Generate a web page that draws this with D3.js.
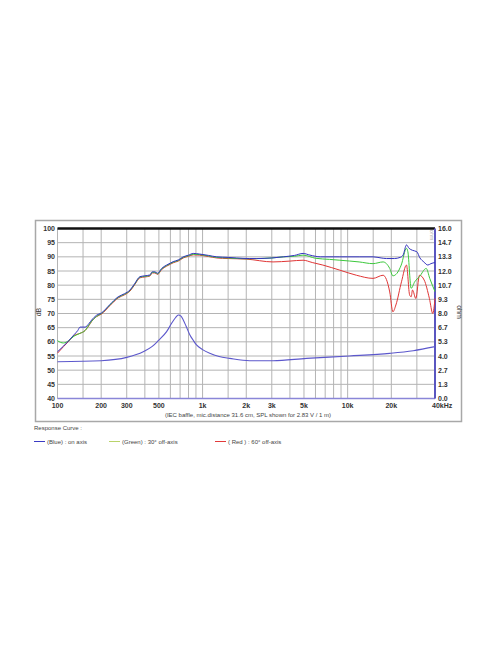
<!DOCTYPE html>
<html><head><meta charset="utf-8">
<script src="https://cdn.jsdelivr.net/npm/d3@7"></script>
<style>html,body{margin:0;padding:0;background:#fff;}svg{display:block;font-family:"Liberation Sans",Arial,sans-serif;}</style>
</head><body>
<svg id="c" width="496" height="664"></svg>
<script>
// ---- data ----
const xTickLabels = [[100,"100"],[200,"200"],[300,"300"],[500,"500"],[1000,"1k"],[2000,"2k"],[3000,"3k"],[5000,"5k"],[10000,"10k"],[20000,"20k"],[40000,"40kHz"]];
const xGrid = [100,150,200,300,400,500,600,700,800,900,1000,1500,2000,3000,4000,5000,6000,7000,8000,9000,10000,15000,20000,30000,40000];
const dbTicks = [40,45,50,55,60,65,70,75,80,85,90,95,100];
const ohmTicks = ["0.0","1.3","2.7","4.0","5.3","6.7","8.0","9.3","10.7","12.0","13.3","14.7","16.0"];

const blueFreq = [100,110,120,130,138,143,155,165,172,186,201,230,262,290,316,340,370,400,433,450,469,490,522,565,600,627,680,736,800,863,950,1100,1252,1500,1712,2106,2350,3000,3600,4300,4930,5500,6500,8830,12000,14950,17000,18530,21000,23000,24100,25440,26500,28000,29970,31500,33500,35700,37500,40000];
const blueDb   = [56.5,58.5,60.5,62.5,64,65.2,65.2,66.5,67.7,69.4,70.2,73.2,75.9,77,78.3,80.5,83,83.3,83.6,84.7,84.7,84.2,85.9,87.1,87.8,88.3,88.9,90,90.6,91.2,91.0,90.5,90,89.8,89.6,89.4,89.4,89.6,90,90.5,91.2,90.6,90,90,90,90,89.6,89.4,89.4,89.8,90.6,94.2,93,92.3,91.8,89.6,88.2,87.1,87.6,88];

const greenFreq = [100,105,110,120,130,143,155,165,172,186,201,230,262,290,316,340,370,400,433,450,469,490,522,565,600,627,680,736,800,863,950,1100,1252,1500,2000,2500,3000,3600,4300,4930,6000,7500,8830,12000,14950,17540,19500,20500,21800,23400,25440,26000,27400,29000,31250,34800,36800,40000];
const greenDb   = [60.4,59.8,59.6,60.5,62,63,64,66,67.3,69,70,73,75.7,76.8,78.1,80.3,82.8,83.1,83.4,84.5,84.5,84,85.7,86.9,87.6,88.1,88.7,89.8,90.4,90.9,90.8,90.3,89.8,89.6,89.3,89.4,89.6,90,90.2,90.6,89.5,89.1,88.8,88.2,87.6,88.2,85.9,83.3,84.1,87.1,93,91.8,78.9,81.2,83,85.9,82.4,77.7];

const redFreq = [100,110,120,130,143,155,165,172,186,201,230,262,290,316,340,370,400,433,450,469,490,522,565,600,627,680,736,800,863,950,1100,1252,1500,2000,3060,4000,4930,5700,6740,8830,11500,14950,17540,19500,20500,21500,23500,25440,26750,27400,28000,29500,31250,33700,36600,38600,40000];
const redDb   = [56,58.3,60.3,62.2,63,64,65.8,67.2,68.9,69.8,72.8,75.5,76.6,77.9,80.1,82.6,82.9,83.2,84.3,84.3,83.8,85.5,86.7,87.4,87.9,88.5,89.6,90.2,90.7,90.6,90.1,89.6,89.4,89.2,88.2,88.5,88.8,88.0,87.1,85.3,83.5,82.4,83.5,77.6,70.6,73,81.2,87.1,76.5,75.9,78.3,75.3,83.5,81.8,75.3,70,75.3];

const impFreq = [100,200,300,390,450,495,565,612,650,680,710,736,770,818,860,908,1000,1120,1300,1540,2110,3060,5200,10300,19500,28300,40000];
const impOhm  = [3.46,3.56,3.87,4.4,4.9,5.44,6.29,7.08,7.6,7.86,7.75,7.39,6.8,5.98,5.5,5.04,4.6,4.25,3.95,3.78,3.56,3.56,3.78,4.0,4.25,4.5,4.88];

const legendItems = [["(Blue) : on axis","#3b3bc4"],["(Green) : 30° off-axis","#b9d36a"],["( Red ) : 60° off-axis","#e23a3a"]];

// ---- drawing ----
const svg = d3.select("#c");
svg.append("rect").attr("width",496).attr("height",664).attr("fill","#fff");

const L=57.5, R=435, T=228.5, B=398.5;
const x = d3.scaleLog().domain([100,40000]).range([L,R]);
const y = d3.scaleLinear().domain([40,100]).range([B,T]);
const yo = d3.scaleLinear().domain([0,16]).range([B,T]);

// frame
svg.append("rect").attr("x",35.5).attr("y",220.5).attr("width",426).attr("height",201)
  .attr("fill","none").attr("stroke","#a8a8a8").attr("stroke-width",1.5);

// grid
const g = svg.append("g");
g.selectAll(".vg").data(xGrid).join("line")
  .attr("x1",d=>x(d)).attr("x2",d=>x(d)).attr("y1",T).attr("y2",B)
  .attr("stroke","#b4b4b4").attr("stroke-width",1);
g.selectAll(".hg").data(dbTicks).join("line")
  .attr("x1",L).attr("x2",R).attr("y1",d=>y(d)).attr("y2",d=>y(d))
  .attr("stroke","#b4b4b4").attr("stroke-width",1);

// axes lines
svg.append("line").attr("x1",L).attr("x2",R).attr("y1",T).attr("y2",T).attr("stroke","#111").attr("stroke-width",2.5);
svg.append("line").attr("x1",L).attr("x2",R).attr("y1",B).attr("y2",B).attr("stroke","#8a86d8").attr("stroke-width",1.5);
svg.append("line").attr("x1",R).attr("x2",R).attr("y1",T).attr("y2",B).attr("stroke","#5a56c0").attr("stroke-width",2);

// left tick labels
svg.append("g").selectAll("text").data(dbTicks).join("text")
  .attr("x",55).attr("y",d=>y(d)+2.5).attr("text-anchor","end")
  .attr("font-size",7).attr("font-weight","bold").attr("fill","#333").text(d=>d);
// right tick labels
svg.append("g").selectAll("text").data(ohmTicks).join("text")
  .attr("x",438).attr("y",(d,i)=>yo(i*16/12)+2.5)
  .attr("font-size",7).attr("font-weight","bold").attr("fill","#333").text(d=>d);
// x tick labels
svg.append("g").selectAll("text").data(xTickLabels).join("text")
  .attr("x",d=>d[0]===40000 ? x(d[0])-3 : x(d[0])).attr("y",408)
  .attr("text-anchor",d=>d[0]===40000?"start":"middle")
  .attr("font-size",7).attr("font-weight","bold").attr("fill","#333").text(d=>d[1]);

// axis titles
svg.append("text").attr("transform","translate(41,312) rotate(-90)").attr("text-anchor","middle")
  .attr("font-size",7).attr("fill","#333").text("dB");
svg.append("text").attr("transform","translate(457,312) rotate(90)").attr("text-anchor","middle")
  .attr("font-size",7).attr("fill","#333").text("ohm");
svg.append("text").attr("transform","translate(430,235) rotate(90)").attr("text-anchor","middle")
  .attr("font-size",5.5).attr("fill","#aaa").text("ohm");

// caption
svg.append("text").attr("x",248).attr("y",417).attr("text-anchor","middle")
  .attr("font-size",6).attr("fill","#444").text("(IEC baffle, mic.distance 31.6 cm, SPL shown for 2.83 V / 1 m)");

// curves
const line = d3.line().curve(d3.curveMonotoneX);
function drawCurve(fr, vals, sc, color, w){
  svg.append("path").attr("d", line(fr.map((f,i)=>[x(f), sc(vals[i])])))
    .attr("fill","none").attr("stroke",color).attr("stroke-width",w);
}
drawCurve(impFreq, impOhm, yo, "#5c58cc", 1.1);
drawCurve(redFreq, redDb, y, "#e03636", 1);
drawCurve(greenFreq, greenDb, y, "#3cc83c", 1);
drawCurve(blueFreq, blueDb, y, "#3434c0", 1);

// legend
svg.append("text").attr("x",34).attr("y",430).attr("font-size",6).attr("fill","#444").text("Response Curve :");
const lx = [34,109,215];
legendItems.forEach((d,i)=>{
  svg.append("line").attr("x1",lx[i]).attr("x2",lx[i]+11).attr("y1",441.5).attr("y2",441.5).attr("stroke",d[1]).attr("stroke-width",1);
  svg.append("text").attr("x",lx[i]+13).attr("y",443.5).attr("font-size",6).attr("fill","#444").text(d[0]);
});
</script>
</body></html>
